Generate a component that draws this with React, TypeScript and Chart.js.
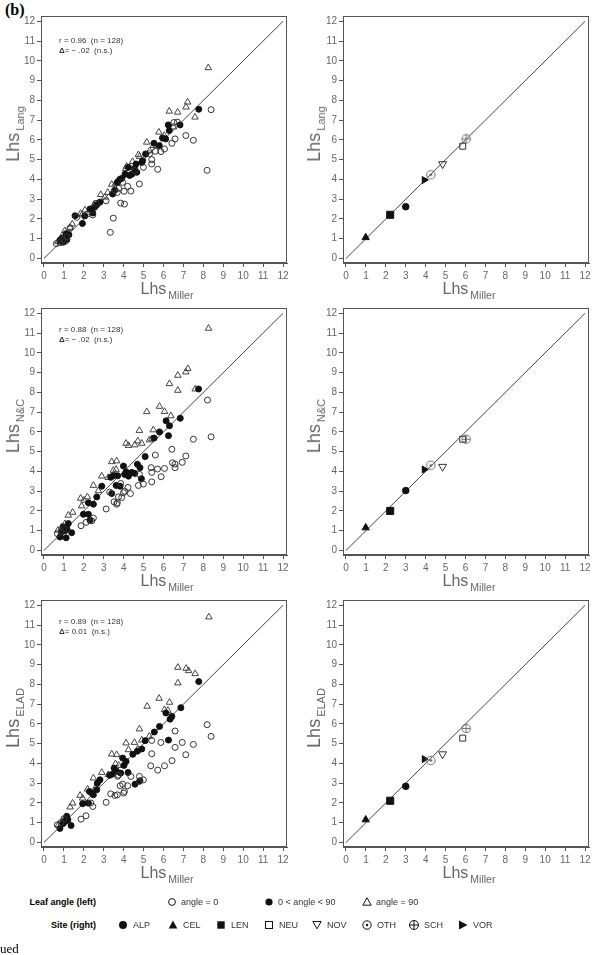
import React, { useEffect, useRef } from "react";
import { Chart, registerables } from "chart.js";

Chart.register(...registerables);

// ---------- data ----------
const axisTicks = [0, 1, 2, 3, 4, 5, 6, 7, 8, 9, 10, 11, 12];
const identityLine = [0, 12];

// Leaf-level estimates: [Lhs Miller, Lhs method]
const langOpen = [
  [8.39, 7.53], [8.19, 4.46], [7.5, 5.98], [7.12, 6.22], [6.52, 6.88], [6.58, 6.05], [6.42, 5.83],
  [6.05, 5.54], [5.87, 5.41], [5.71, 4.51], [5.59, 5.42], [5.41, 5.0], [5.41, 4.78], [4.99, 4.61],
  [4.79, 3.77], [4.36, 3.41], [4.02, 3.4], [4.2, 3.65], [3.85, 2.8], [4.04, 2.75], [3.48, 2.04],
  [3.33, 1.32], [3.12, 2.92], [3.68, 3.34], [3.56, 3.46], [3.75, 3.55], [2.61, 2.79], [2.18, 2.25],
  [1.64, 2.08], [1.31, 1.55], [0.62, 0.75], [0.95, 0.95], [1.15, 1.1], [2.45, 2.2], [4.55, 4.45],
  [5.3, 5.3], [6.7, 6.9], [3.95, 3.85], [1.05, 0.85], [0.8, 0.8],
];
const langFilled = [
  [7.77, 7.55], [6.83, 6.76], [6.24, 6.76], [6.29, 6.47], [6.11, 6.05], [5.79, 5.71], [5.52, 5.83],
  [5.1, 5.29], [4.91, 4.86], [4.62, 4.78], [4.66, 4.36], [4.42, 4.27], [4.24, 4.61], [4.07, 4.27],
  [3.9, 4.05], [3.68, 3.85], [3.45, 3.26], [2.81, 2.85], [2.65, 2.72], [2.31, 2.5], [1.93, 1.77],
  [1.56, 2.16], [0.8, 0.9], [1.06, 1.06], [0.95, 0.82], [1.15, 0.95], [1.25, 1.2], [2.45, 2.3],
  [2.55, 2.6], [3.55, 3.45], [3.8, 4.0], [4.3, 4.2], [4.55, 4.55], [4.95, 4.95], [5.95, 6.1],
  [2.05, 2.15], [1.1, 1.25], [0.88, 1.0],
];
const langTriangle = [
  [8.25, 9.65], [7.21, 7.91], [7.13, 7.66], [6.29, 7.45], [6.71, 7.4], [7.58, 7.15], [5.77, 6.39],
  [6.04, 6.22], [5.16, 5.88], [4.74, 5.25], [4.8, 5.15], [4.15, 4.66], [4.1, 4.55], [3.4, 3.75],
  [3.2, 3.34], [2.85, 3.23], [2.51, 2.72], [2.06, 2.45], [1.84, 2.28], [1.42, 1.74], [1.31, 1.57],
  [1.04, 1.4], [5.49, 5.71], [3.6, 3.8], [4.45, 4.9], [2.3, 2.45], [0.85, 1.05], [1.2, 1.3],
  [3.05, 3.1], [5.3, 5.45], [6.5, 6.65], [1.9, 2.2], [0.7, 0.85],
];

const ncOpen = [
  [8.21, 7.61], [8.39, 5.75], [7.5, 5.63], [7.12, 4.78], [6.94, 4.46], [6.42, 5.12], [6.45, 4.44],
  [6.58, 4.37], [6.58, 4.19], [6.05, 4.15], [5.88, 3.73], [5.59, 4.83], [5.7, 4.12], [5.38, 4.19],
  [5.41, 3.95], [5.41, 3.47], [4.99, 3.36], [4.74, 3.29], [4.79, 3.85], [4.22, 3.19], [4.34, 2.88],
  [3.99, 2.92], [3.9, 2.68], [3.74, 2.71], [3.68, 2.41], [3.65, 2.34], [3.52, 2.46], [3.85, 3.39],
  [3.12, 2.1], [2.48, 1.64], [2.4, 1.5], [2.11, 1.42], [1.86, 1.25], [0.67, 0.85], [0.85, 0.95],
  [1.0, 1.1], [4.05, 3.0], [3.3, 2.95],
];
const ncFilled = [
  [7.76, 8.17], [6.84, 6.69], [6.13, 6.56], [6.3, 6.31], [6.25, 5.81], [5.8, 6.0], [5.53, 5.69],
  [5.08, 4.75], [4.69, 4.36], [4.82, 4.19], [4.89, 3.63], [4.41, 3.95], [4.56, 3.9], [3.99, 4.27],
  [4.12, 3.98], [4.24, 3.76], [3.7, 3.78], [3.48, 3.78], [3.82, 3.25], [3.62, 3.29], [3.4, 2.88],
  [2.9, 3.25], [2.65, 2.71], [2.48, 2.34], [2.23, 2.41], [1.98, 1.83], [2.23, 1.83], [2.31, 1.53],
  [1.39, 0.9], [1.11, 0.64], [0.8, 0.68], [0.97, 1.19], [1.22, 1.36], [1.05, 1.0], [0.9, 0.95],
  [1.15, 1.1], [3.35, 3.7], [4.05, 3.85],
];
const ncTriangle = [
  [8.26, 11.24], [7.22, 9.2], [7.12, 9.03], [6.72, 8.86], [6.3, 8.44], [6.72, 8.1], [7.59, 8.17],
  [5.16, 7.02], [5.8, 7.29], [6.05, 7.03], [6.37, 6.81], [4.79, 6.07], [5.49, 6.1], [5.29, 5.59],
  [5.41, 5.65], [4.12, 5.42], [4.24, 5.31], [4.56, 5.34], [4.71, 5.54], [4.91, 5.42], [3.4, 4.49],
  [3.65, 4.53], [3.48, 4.05], [3.62, 4.1], [2.9, 3.76], [3.23, 3.69], [2.48, 3.29], [2.18, 2.71],
  [1.84, 2.64], [2.01, 2.54], [1.44, 1.93], [1.22, 1.78], [2.73, 3.02], [1.89, 2.25], [0.7, 1.02],
  [0.89, 1.19], [1.05, 1.35],
];

const eladOpen = [
  [8.19, 5.96], [8.39, 5.37], [7.5, 4.96], [6.94, 5.06], [7.12, 4.44], [6.58, 5.64], [6.58, 4.81],
  [6.43, 4.14], [6.05, 3.88], [5.87, 5.06], [5.71, 3.66], [5.41, 5.16], [5.41, 4.49], [5.36, 3.88],
  [4.99, 3.17], [4.79, 3.09], [4.79, 3.34], [4.36, 3.34], [4.2, 2.87], [4.04, 2.58], [4.0, 2.5],
  [3.82, 2.87], [3.95, 2.95], [3.68, 2.41], [3.56, 2.38], [3.35, 2.46], [3.74, 3.41], [3.12, 2.03],
  [2.45, 1.82], [2.11, 1.35], [1.86, 1.18], [0.67, 0.89], [0.85, 1.0], [1.0, 1.2], [3.7, 3.35],
  [2.35, 2.0],
];
const eladFilled = [
  [7.77, 8.14], [6.87, 6.82], [6.12, 6.55], [6.42, 6.38], [6.33, 6.24], [5.8, 5.87], [5.54, 5.59],
  [5.08, 5.15], [4.91, 4.73], [4.69, 4.62], [4.46, 4.46], [6.25, 5.18], [4.82, 3.12], [4.57, 2.95],
  [3.95, 4.27], [4.12, 4.1], [4.02, 3.9], [4.22, 3.54], [3.52, 3.76], [3.65, 3.59], [3.45, 3.46],
  [3.85, 3.51], [2.81, 3.17], [2.68, 3.0], [2.48, 2.41], [2.28, 2.58], [1.94, 1.96], [2.23, 1.99],
  [2.65, 2.67], [1.36, 0.86], [0.8, 0.71], [1.06, 1.06], [1.14, 1.32], [0.95, 0.95], [1.2, 1.15],
  [3.3, 3.4], [2.4, 2.5],
];
const eladTriangle = [
  [8.28, 11.41], [6.72, 8.86], [7.14, 8.81], [7.26, 8.69], [7.59, 8.54], [6.72, 8.07], [5.78, 7.29],
  [6.3, 7.09], [5.18, 6.89], [6.05, 6.72], [6.22, 6.68], [4.79, 5.74], [5.29, 5.37], [4.12, 5.03],
  [4.54, 5.06], [4.91, 5.18], [4.24, 4.69], [4.71, 4.73], [3.4, 4.47], [3.65, 4.44], [3.59, 3.98],
  [2.9, 3.54], [2.48, 3.26], [3.23, 3.43], [2.19, 2.7], [1.81, 2.38], [1.94, 2.24], [1.44, 1.99],
  [1.31, 1.79], [0.72, 0.89], [0.9, 1.05], [1.1, 1.3], [3.75, 3.9], [2.6, 2.8],
];

// Site means
const siteNames = ["ALP", "CEL", "LEN", "NEU", "NOV", "OTH", "SCH", "VOR"];
const siteMiller = [3.0, 0.99, 2.22, 5.86, 4.85, 4.26, 6.03, 3.93];
const siteLang = [2.62, 1.06, 2.21, 5.68, 4.78, 4.23, 6.05, 3.97];
const siteNC = [3.03, 1.15, 2.0, 5.63, 4.24, 4.31, 5.63, 4.1];
const siteELAD = [2.84, 1.15, 2.11, 5.28, 4.47, 4.15, 5.77, 4.22];

// ---------- layout ----------
const X_MIN = -0.15, X_MAX = 12.2, Y_MIN = -0.23, Y_MAX = 12.27;
const PLOT_W = 246, PLOT_H = 247;
const Y_AXIS_W = 30, X_AXIS_H = 22, PAD_TOP = 8, PAD_RIGHT = 10;
const FONT = '"Liberation Sans", Arial, Helvetica, sans-serif';
const INK = "#222";
const AXIS = "#555";
const TICK_TEXT = "#666";

const pts = (arr: number[][]) => arr.map(([x, y]) => ({ x, y }));

function markerCanvas(kind: "dot" | "plus") {
  const c = document.createElement("canvas");
  c.width = 11;
  c.height = 11;
  const g = c.getContext("2d")!;
  g.strokeStyle = "#777";
  g.fillStyle = "#555";
  g.lineWidth = 1.1;
  g.beginPath();
  g.arc(5.5, 5.5, 4.2, 0, Math.PI * 2);
  g.stroke();
  if (kind === "dot") {
    g.beginPath();
    g.arc(5.5, 5.5, 1.3, 0, Math.PI * 2);
    g.fill();
  } else {
    g.beginPath();
    g.moveTo(1.3, 5.5);
    g.lineTo(9.7, 5.5);
    g.moveTo(5.5, 1.3);
    g.lineTo(5.5, 9.7);
    g.stroke();
  }
  return c;
}

function leafDatasets(open: number[][], filled: number[][], tri: number[][]) {
  return [
    {
      data: pts(open), pointStyle: "circle", pointRadius: 3, borderWidth: 1,
      borderColor: "#333", backgroundColor: "rgba(255,255,255,0)", order: 1,
    },
    {
      data: pts(filled), pointStyle: "circle", pointRadius: 3, borderWidth: 1,
      borderColor: "#111", backgroundColor: "#111", order: 1,
    },
    {
      data: pts(tri), pointStyle: "triangle", pointRadius: 3.8, borderWidth: 1,
      borderColor: "#444", backgroundColor: "rgba(255,255,255,0)", order: 1,
    },
  ];
}

function siteDatasets(yVals: number[]) {
  const style: Record<string, any> = {
    ALP: { pointStyle: "circle", pointRadius: 3.3, backgroundColor: "#111", borderColor: "#111" },
    CEL: { pointStyle: "triangle", pointRadius: 4.2, backgroundColor: "#111", borderColor: "#111" },
    LEN: { pointStyle: "rect", pointRadius: 5, backgroundColor: "#111", borderColor: "#111" },
    NEU: { pointStyle: "rect", pointRadius: 4.2, backgroundColor: "rgba(255,255,255,0)", borderColor: "#333" },
    NOV: { pointStyle: "triangle", pointRotation: 180, pointRadius: 4.6, backgroundColor: "rgba(255,255,255,0)", borderColor: "#333" },
    OTH: { pointStyle: markerCanvas("dot") },
    SCH: { pointStyle: markerCanvas("plus") },
    VOR: { pointStyle: "triangle", pointRotation: 90, pointRadius: 4, backgroundColor: "#111", borderColor: "#111" },
  };
  return siteNames.map((name, i) => ({
    label: name,
    data: [{ x: siteMiller[i], y: yVals[i] }],
    borderWidth: 1,
    order: 1,
    ...style[name],
  }));
}

const boxPlugin = {
  id: "plotBox",
  afterDraw(chart: any) {
    const { ctx, chartArea: a } = chart;
    ctx.save();
    ctx.strokeStyle = AXIS;
    ctx.lineWidth = 1;
    ctx.strokeRect(Math.round(a.left) + 0.5, Math.round(a.top) + 0.5, Math.round(a.right - a.left) - 1, Math.round(a.bottom - a.top) - 1);
    ctx.restore();
  },
};

function ScatterPanel({ left, top, build }: { left: number; top: number; build: () => any[] }) {
  const ref = useRef<HTMLCanvasElement>(null);
  const W = Y_AXIS_W + PLOT_W + PAD_RIGHT;
  const H = PAD_TOP + PLOT_H + X_AXIS_H;
  useEffect(() => {
    const tickCfg = { font: { size: 10, family: FONT }, color: TICK_TEXT, autoSkip: false, maxRotation: 0 };
    const gridCfg = { display: true, drawOnChartArea: false, drawTicks: true, tickLength: 4, color: AXIS };
    const setTicks = (s: any) => { s.ticks = axisTicks.map((v) => ({ value: v })); };
    const chart = new Chart(ref.current!, {
      type: "scatter",
      data: {
        datasets: [
          {
            data: identityLine.map((v) => ({ x: v, y: v })),
            showLine: true, borderColor: "#444", borderWidth: 1, pointRadius: 0, order: 10,
          },
          ...build(),
        ],
      },
      options: {
        responsive: false,
        animation: false,
        events: [],
        devicePixelRatio: 1,
        layout: { padding: { left: 0, top: PAD_TOP, right: PAD_RIGHT, bottom: 0 } },
        plugins: { legend: { display: false }, tooltip: { enabled: false } },
        scales: {
          x: {
            type: "linear", min: X_MIN, max: X_MAX,
            afterBuildTicks: setTicks,
            afterFit: (s: any) => { s.height = X_AXIS_H; },
            ticks: { ...tickCfg, padding: 3 },
            grid: gridCfg,
            border: { display: true, color: AXIS, width: 1 },
          },
          y: {
            type: "linear", min: Y_MIN, max: Y_MAX,
            afterBuildTicks: setTicks,
            afterFit: (s: any) => { s.width = Y_AXIS_W; },
            ticks: { ...tickCfg, padding: 2 },
            grid: gridCfg,
            border: { display: true, color: AXIS, width: 1 },
          },
        },
      } as any,
      plugins: [boxPlugin],
    });
    return () => chart.destroy();
  }, []);
  return (
    <canvas
      ref={ref}
      width={W}
      height={H}
      style={{ position: "absolute", left: left - Y_AXIS_W, top: top - PAD_TOP, width: W, height: H }}
    />
  );
}

function XTitle({ cx, top }: { cx: number; top: number }) {
  return (
    <div style={{ position: "absolute", left: cx, top, transform: "translateX(-50%)", whiteSpace: "nowrap", color: "#666", lineHeight: 1 }}>
      <span style={{ fontSize: 16 }}>Lhs</span>
      <span style={{ fontSize: 10.5, position: "relative", top: 5, marginLeft: 2 }}>Miller</span>
    </div>
  );
}

function YTitle({ cx, cy, sub }: { cx: number; cy: number; sub: string }) {
  return (
    <div style={{ position: "absolute", left: cx, top: cy, width: 0, height: 0 }}>
      <div
        style={{
          position: "absolute", left: 0, top: 0, whiteSpace: "nowrap", color: "#666", lineHeight: 1,
          transform: "translate(-50%, -50%) rotate(-90deg)",
        }}
      >
        <span style={{ fontSize: 18 }}>Lhs</span>
        <span style={{ fontSize: 11, position: "relative", top: 5, marginLeft: 2 }}>{sub}</span>
      </div>
    </div>
  );
}

function Stats({ left, top, r, delta }: { left: number; top: number; r: string; delta: string }) {
  return (
    <div style={{ position: "absolute", left, top, fontSize: 8, color: "#333", lineHeight: "10px", whiteSpace: "pre" }}>
      <div>{`r = ${r}  (n = 128)`}</div>
      <div><b>Δ</b>{`= ${delta}  (n.s.)`}</div>
    </div>
  );
}

function Mark({ kind, cx, cy }: { kind: string; cx: number; cy: number }) {
  const s = 12;
  let shape: React.ReactNode = null;
  const k = "#111";
  switch (kind) {
    case "openCircle": shape = <circle cx={6} cy={6} r={3.4} fill="none" stroke={k} strokeWidth={1} />; break;
    case "filledCircle": shape = <circle cx={6} cy={6} r={3.6} fill={k} />; break;
    case "openTriangle": shape = <polygon points="6,1.8 10.2,9.2 1.8,9.2" fill="none" stroke={k} strokeWidth={1} />; break;
    case "ALP": shape = <circle cx={6} cy={6} r={4} fill={k} />; break;
    case "CEL": shape = <polygon points="6,1.5 10.3,9.5 1.7,9.5" fill={k} />; break;
    case "LEN": shape = <rect x={2.3} y={2.3} width={7.4} height={7.4} fill={k} />; break;
    case "NEU": shape = <rect x={2.5} y={2.5} width={7} height={7} fill="none" stroke={k} strokeWidth={1} />; break;
    case "NOV": shape = <polygon points="1.8,2.5 10.2,2.5 6,9.8" fill="none" stroke={k} strokeWidth={1} />; break;
    case "OTH": shape = (<g><circle cx={6} cy={6} r={4.2} fill="none" stroke={k} strokeWidth={1} /><circle cx={6} cy={6} r={1.2} fill={k} /></g>); break;
    case "SCH": shape = (<g><circle cx={6} cy={6} r={4.5} fill="none" stroke={k} strokeWidth={1} /><path d="M1.5 6H10.5M6 1.5V10.5" stroke={k} strokeWidth={1} /></g>); break;
    case "VOR": shape = <polygon points="2,1.6 10.5,6 2,10.4" fill={k} />; break;
  }
  return (
    <svg width={s} height={s} style={{ position: "absolute", left: cx - s / 2, top: cy - s / 2 }}>
      {shape}
    </svg>
  );
}

function LegendText({ x, cy, text, bold }: { x: number; cy: number; text: string; bold?: boolean }) {
  return (
    <div
      style={{
        position: "absolute", top: cy - 6, lineHeight: "12px", fontSize: 9, whiteSpace: "nowrap",
        fontWeight: bold ? "bold" : "normal", color: bold ? "#000" : "#333",
        ...(bold ? { right: 593 - x } : { left: x }),
      }}
    >
      {text}
    </div>
  );
}

const leafLegend = [
  { kind: "openCircle", text: "angle = 0", x: 172 },
  { kind: "filledCircle", text: "0 < angle < 90", x: 269 },
  { kind: "openTriangle", text: "angle = 90", x: 367 },
];
const siteLegendX = [123, 173, 221, 269, 317, 367, 414, 463];

export default function App() {
  const colLeft = [41, 343];
  const rowTop = [16, 308, 600];
  const panels = [
    { sub: "Lang", r: "0.96", delta: "− .02", leaf: () => leafDatasets(langOpen, langFilled, langTriangle), site: () => siteDatasets(siteLang) },
    { sub: "N&C", r: "0.88", delta: "− .02", leaf: () => leafDatasets(ncOpen, ncFilled, ncTriangle), site: () => siteDatasets(siteNC) },
    { sub: "ELAD", r: "0.89", delta: "0.01", leaf: () => leafDatasets(eladOpen, eladFilled, eladTriangle), site: () => siteDatasets(siteELAD) },
  ];
  return (
    <div style={{ position: "fixed", left: 0, top: 0, width: 593, height: 955, overflow: "hidden", background: "#fff", fontFamily: FONT }}>
      <div style={{ position: "absolute", left: 5, top: 1, fontFamily: '"Liberation Serif", "Times New Roman", serif', fontWeight: "bold", fontSize: 16 }}>(b)</div>
      {panels.map((p, i) => (
        <React.Fragment key={p.sub}>
          <ScatterPanel left={colLeft[0]} top={rowTop[i]} build={p.leaf} />
          <ScatterPanel left={colLeft[1]} top={rowTop[i]} build={p.site} />
          <XTitle cx={colLeft[0] + PLOT_W / 2 + 3} top={rowTop[i] + PLOT_H + 18} />
          <XTitle cx={colLeft[1] + PLOT_W / 2 + 3} top={rowTop[i] + PLOT_H + 18} />
          <YTitle cx={colLeft[0] - 28} cy={rowTop[i] + 118} sub={p.sub} />
          <YTitle cx={colLeft[1] - 29} cy={rowTop[i] + 118} sub={p.sub} />
          <Stats left={59} top={rowTop[i] + 20 - (i === 0 ? 0 : 3)} r={p.r} delta={p.delta} />
        </React.Fragment>
      ))}
      <LegendText x={96} cy={902} text="Leaf angle (left)" bold />
      {leafLegend.map((l) => (
        <React.Fragment key={l.kind}>
          <Mark kind={l.kind} cx={l.x} cy={902} />
          <LegendText x={l.x + 9} cy={902} text={l.text} />
        </React.Fragment>
      ))}
      <LegendText x={96} cy={925} text="Site (right)" bold />
      {siteNames.map((n, i) => (
        <React.Fragment key={n}>
          <Mark kind={n} cx={siteLegendX[i]} cy={925} />
          <LegendText x={siteLegendX[i] + 10} cy={925} text={n} />
        </React.Fragment>
      ))}
      <div style={{ position: "absolute", left: 0, top: 941, fontFamily: '"Liberation Serif", "Times New Roman", serif', fontSize: 13 }}>ued</div>
    </div>
  );
}
